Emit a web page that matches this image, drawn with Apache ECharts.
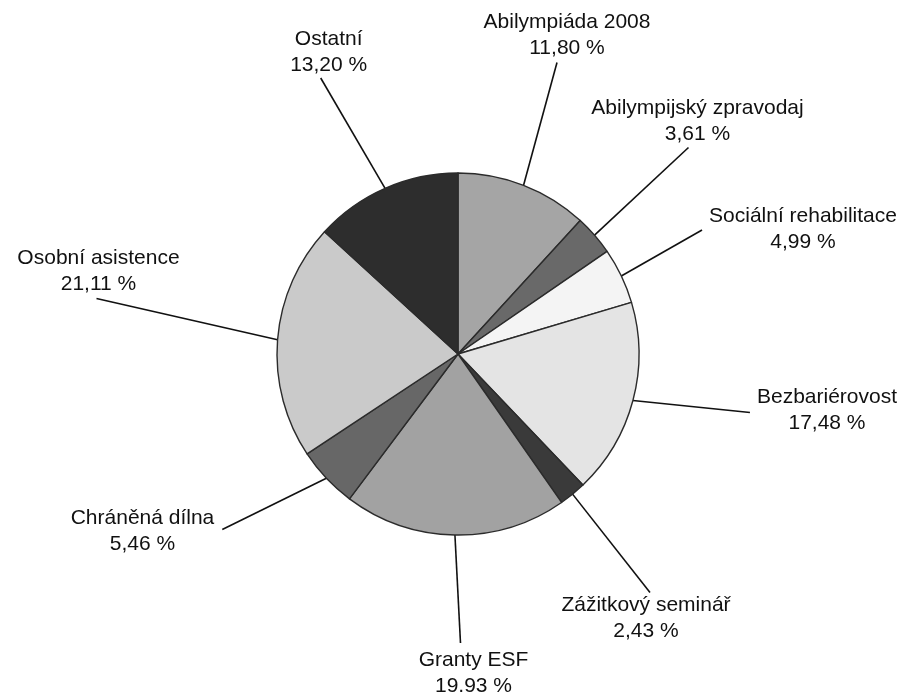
<!DOCTYPE html>
<html>
<head>
<meta charset="utf-8">
<script src="https://cdn.jsdelivr.net/npm/echarts@6/dist/echarts.min.js"></script>
<style>html,body{margin:0;padding:0;background:#fff}#c{width:903px;height:692px}</style>
</head>
<body>
<div id="c"></div>
<script>
const categories = ['Abilympiáda 2008','Abilympijský zpravodaj','Sociální rehabilitace','Bezbariérovost','Zážitkový seminář','Granty ESF','Chráněná dílna','Osobní asistence','Ostatní'];
const values = [11.80, 3.61, 4.99, 17.48, 2.43, 19.93, 5.46, 21.11, 13.20];
const colors = ['#a5a5a5','#696969','#f4f4f4','#e4e4e4','#3a3a3a','#a2a2a2','#676767','#cacaca','#2d2d2d'];
// label placement: centre x, centre y, side the leader line meets, shift along side, gap
const labelPlacement = [
  [567, 35.5, 'bottom', -10, 1],
  [697.5, 121.5, 'bottom', -9, 0],
  [803, 229, 'left', 1, 7],
  [827, 410.5, 'left', 2, 7],
  [646, 618.5, 'top', 4, 0],
  [473.5, 673, 'top', -13, 4],
  [142.5, 531.5, 'right', -2, 8],
  [98.5, 271.5, 'bottom', -2, 1],
  [328.7, 52, 'bottom', -8, 0]
];
const chart = echarts.init(document.getElementById('c'), null, {renderer:'canvas'});
chart.setOption({
  animation: false,
  backgroundColor: '#fff',
  series: [{
    type: 'pie',
    center: [458, 354],
    radius: 181,
    startAngle: 90,
    clockwise: true,
    avoidLabelOverlap: false,
    data: categories.map((n, i) => ({name: n, value: values[i], itemStyle: {color: colors[i]}})),
    itemStyle: {borderColor: '#2b2b2b', borderWidth: 1.4},
    label: {
      show: true,
      position: 'outside',
      align: 'center',
      fontFamily: 'Liberation Sans, Arial, sans-serif',
      fontSize: 21,
      lineHeight: 26,
      color: '#111',
      formatter: p => p.name + '\n' + p.value.toFixed(2).replace('.', ',') + ' %'
    },
    labelLine: {show: true, length: 10, length2: 0, lineStyle: {color: '#111', width: 1.6}},
    emphasis: {disabled: true},
    labelLayout: function (params) {
      const lp = labelPlacement[params.dataIndex];
      const w = params.labelRect.width, h = params.labelRect.height;
      const cx = lp[0], cy = lp[1];
      let end;
      if (lp[2] === 'bottom') end = [cx + lp[3], cy + h / 2 + lp[4]];
      else if (lp[2] === 'top') end = [cx + lp[3], cy - h / 2 - lp[4]];
      else if (lp[2] === 'left') end = [cx - w / 2 - lp[4], cy + lp[3]];
      else end = [cx + w / 2 + lp[4], cy + lp[3]];
      const start = params.labelLinePoints[0];
      return {
        x: cx, y: cy, align: 'center', verticalAlign: 'middle',
        hideOverlap: false,
        labelLinePoints: [start, end, end]
      };
    }
  }]
});
</script>
</body>
</html>
